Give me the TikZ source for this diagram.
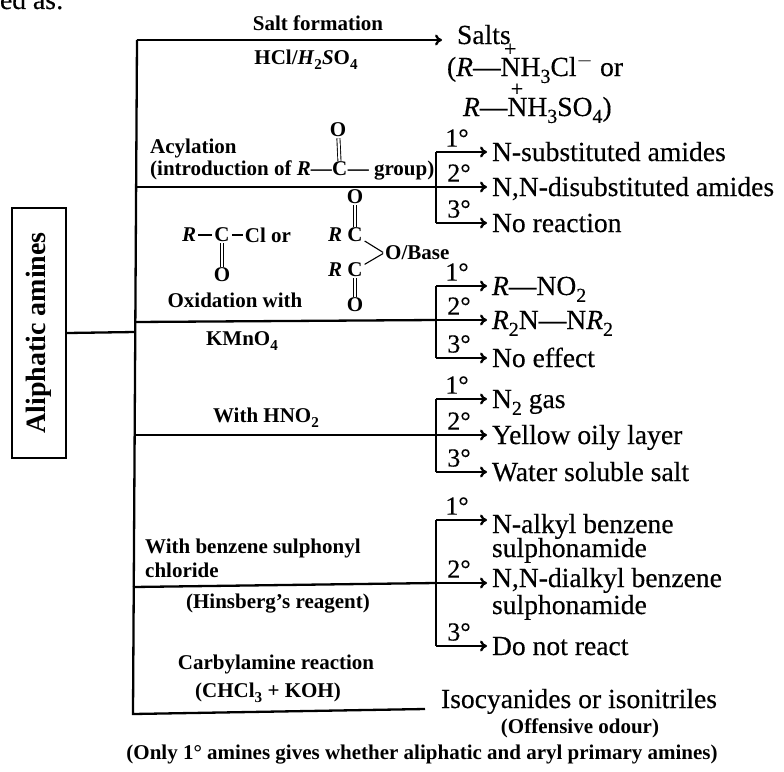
\documentclass[tikz,border=0pt]{standalone}
\usepackage{fontspec}
\setmainfont{Liberation Serif}
\newfontfamily\heavyfont[FakeBold=0.35]{Liberation Serif}
\usetikzlibrary{arrows.meta,positioning}
\newcommand{\Nplus}{\leavevmode\rlap{\raisebox{0.72em}{\hspace{0.12em}\scalebox{0.8}{+}}}N}
\newcommand{\subt}[1]{\raisebox{-0.25em}{\scalebox{0.72}{#1}}}
\tikzset{
	branchline/.style={line width=2.3pt},
	arrowline/.style={line width=2.3pt,-{To[length=7pt,width=11pt]}},
	bondline/.style={line width=1.1pt,shorten >=1pt,shorten <=1pt},
	dblbond/.style={line width=0.9pt,double,double distance=2.2pt},
	bigtext/.style={font=\fontsize{27.6}{30}\heavyfont,inner sep=0pt,outer sep=0pt,anchor=west,text height=19pt,text depth=1pt},
	forktext/.style={bigtext,outer sep=5pt},
	smalltext/.style={font=\fontsize{21}{24}\selectfont\bfseries,inner sep=0pt},
	atomtext/.style={font=\fontsize{21}{24}\selectfont\bfseries,inner sep=1pt},
	degreetext/.style={font=\fontsize{26}{28}\heavyfont,inner sep=0pt}
}

\begin{document}
\begin{tikzpicture}[x=1pt,y=-1pt]
	\useasboundingbox (0,0) rectangle (784,771);
	\node[bigtext,anchor=base west] (cutoff) at (0,9) {ed as:};
	% box and trunk
	\node[draw,line width=2pt,rotate=90,minimum width=250pt,minimum height=54pt,inner sep=0pt,
		font=\fontsize{28}{30}\selectfont\bfseries] (amines) at (39,333) {Aliphatic amines};
	\coordinate (trunktop) at (137,40);
	\coordinate (trunkmid) at (135,332);
	\coordinate (trunkbot) at (133,714);
	\coordinate (carbyend) at (425,709);
	\draw[branchline] (amines.south) -- (trunkmid);
	\draw[branchline] (trunktop) -- (trunkbot) -- (carbyend);
	% salts
	\node[bigtext,anchor=base west] (salts) at (457,44) {Salts};
	\coordinate (saltsend) at (442,40);
	\draw[arrowline] (trunktop) -- (saltsend);
	\node[smalltext] (saltlabel) at (318,23) {Salt formation};
	\node[smalltext] (hcl) at (306,60) {HCl/\textit{H}\subt{2}\textit{S}O\subt{4}};
	\node[bigtext,anchor=base west] (saltsa) at (447,76) {(\textit{R}—\Nplus H\subt{3}Cl$^-$ or};
	\node[bigtext,anchor=base west] (saltsb) at (463,116) {\textit{R}—\Nplus H\subt{3}SO\subt{4})};
	% forks
	\foreach \g/\ya/\yb/\yc/\ta/\tb/\tc in {
		acyl/152/187/223/{N-substituted amides}/{N,N-disubstituted amides}/{No reaction},
		oxid/286/320/358/{\textit{R}—NO\subt{2}}/{\textit{R}\subt{2}N—N\textit{R}\subt{2}}/{No effect},
		nitr/399/435/472/{N\subt{2} gas}/{Yellow oily layer}/{Water soluble salt},
		sulf/520/583/646/{\raisebox{-4pt}{N-alkyl benzene}}/{\raisebox{5pt}{N,N-dialkyl benzene}}/{Do not react}}{
		\coordinate (\g top) at (436,\ya);
		\coordinate (\g fork) at (436,\yb);
		\coordinate (\g bot) at (436,\yc);
		\node[forktext] (\g a) at (487,\ya) {\ta};
		\node[forktext] (\g b) at (487,\yb) {\tb};
		\node[forktext] (\g c) at (487,\yc) {\tc};
		\node[degreetext] (\g one) at (457,\ya-14) {1°};
		\node[degreetext] (\g two) at (459,\yb-14) {2°};
		\node[degreetext] (\g three) at (459,\yc-14) {3°};
		\draw[branchline] (\g top) -- (\g bot);
		\draw[arrowline] (\g top) -- (\g a);
		\draw[arrowline] (\g fork) -- (\g b);
		\draw[arrowline] (\g bot) -- (\g c);
	}
	\coordinate (acylstart) at (136,187);
	\coordinate (oxidstart) at (135,322);
	\coordinate (nitrstart) at (134,435);
	\coordinate (sulfstart) at (133,587);
	\draw[branchline] (acylstart) -- (acylfork);
	\draw[branchline] (oxidstart) -- (oxidfork);
	\draw[branchline] (nitrstart) -- (nitrfork);
	\draw[branchline] (sulfstart) -- (sulffork);
	\node[bigtext,anchor=base west] (sulfa2) at (492,557) {sulphonamide};
	\node[bigtext,anchor=base west] (sulfb2) at (492,614) {sulphonamide};
	% acylation
	\node[smalltext,anchor=base west] (acylname) at (150,153) {Acylation};
	\node[smalltext,anchor=base west] (acylintro) at (150,175) {(introduction of \textit{R}—};
	\node[atomtext,anchor=base west,inner sep=0pt] (acylC) at (acylintro.base east) {C};
	\node[smalltext,anchor=base west] (acylgroup) at (acylC.base east) {— group)};
	\node[atomtext] (acylO) at (338,130) {O};
	\draw[dblbond] (acylC) -- (acylO);
	% reagents
	\node[atomtext] (chlC) at (222,235) {C};
	\node[atomtext,left=16pt of chlC] (chlR) {\textit{R}};
	\node[atomtext,right=13pt of chlC,anchor=west] (chlCl) {Cl or};
	\node[atomtext] (chlO) at (222,275) {O};
	\draw[bondline] (chlR) -- (chlC);
	\draw[bondline] (chlC) -- (chlCl);
	\draw[dblbond] (chlC) -- (chlO);
	\node[atomtext] (anhCa) at (355,235) {C};
	\node[atomtext,left=3pt of anhCa] (anhRa) {\textit{R}};
	\node[atomtext] (anhCb) at (355,270) {C};
	\node[atomtext,left=3pt of anhCb] (anhRb) {\textit{R}};
	\node[atomtext] (anhOa) at (355,197) {O};
	\node[atomtext] (anhOb) at (355,305) {O};
	\node[atomtext,anchor=west] (anhBase) at (384,253) {O/Base};
	\draw[dblbond] (anhCa) -- (anhOa);
	\draw[dblbond] (anhCb) -- (anhOb);
	\draw[bondline] (anhCa) -- (anhBase.west);
	\draw[bondline] (anhCb) -- (anhBase.west);
	% labels on the branches
	\node[smalltext] (oxidname) at (235,300) {Oxidation with};
	\node[smalltext] (kmno) at (242,341) {KMnO\subt{4}};
	\node[smalltext] (hnoname) at (266,418) {With HNO\subt{2}};
	\node[smalltext,anchor=base west] (bsname) at (145,553) {With benzene sulphonyl};
	\node[smalltext,anchor=base west] (bsnameb) at (145,577) {chloride};
	\node[smalltext] (hinsberg) at (278,604) {(Hinsberg's reagent)};
	\node[smalltext] (carby) at (276,664) {Carbylamine reaction};
	\node[smalltext] (chcl) at (268,693) {(CHCl\subt{3} + KOH)};
	% isocyanides
	\node[bigtext,anchor=base west] (iso) at (441,708) {Isocyanides or isonitriles};
	\node[smalltext] (odour) at (580,728) {(Offensive odour)};
	\node[smalltext] (onlyone) at (422,755) {(Only 1° amines gives whether aliphatic and aryl primary amines)};
\end{tikzpicture}
\end{document}
